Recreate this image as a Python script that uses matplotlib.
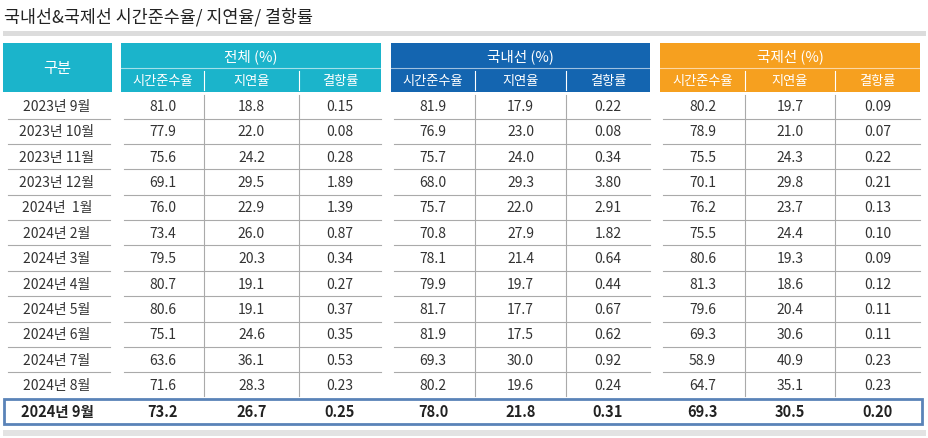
import matplotlib.pyplot as plt
from matplotlib.patches import Rectangle

plt.rcParams['font.family'] = ['Noto Sans CJK KR', 'Noto Sans CJK JP', 'Noto Sans CJK SC',
                               'Noto Sans CJK TC', 'DejaVu Sans']

title = '국내선&국제선 시간준수율/ 지연율/ 결항률'
months = ['2023년 9월', '2023년 10월', '2023년 11월', '2023년 12월', '2024년  1월', '2024년 2월',
          '2024년 3월', '2024년 4월', '2024년 5월', '2024년 6월', '2024년 7월', '2024년 8월', '2024년 9월']
groups = ['전체 (%)', '국내선 (%)', '국제선 (%)']
subcols = ['시간준수율', '지연율', '결항률']
total = [[81.0, 18.8, 0.15], [77.9, 22.0, 0.08], [75.6, 24.2, 0.28], [69.1, 29.5, 1.89],
         [76.0, 22.9, 1.39], [73.4, 26.0, 0.87], [79.5, 20.3, 0.34], [80.7, 19.1, 0.27],
         [80.6, 19.1, 0.37], [75.1, 24.6, 0.35], [63.6, 36.1, 0.53], [71.6, 28.3, 0.23],
         [73.2, 26.7, 0.25]]
domestic = [[81.9, 17.9, 0.22], [76.9, 23.0, 0.08], [75.7, 24.0, 0.34], [68.0, 29.3, 3.80],
            [75.7, 22.0, 2.91], [70.8, 27.9, 1.82], [78.1, 21.4, 0.64], [79.9, 19.7, 0.44],
            [81.7, 17.7, 0.67], [81.9, 17.5, 0.62], [69.3, 30.0, 0.92], [80.2, 19.6, 0.24],
            [78.0, 21.8, 0.31]]
intl = [[80.2, 19.7, 0.09], [78.9, 21.0, 0.07], [75.5, 24.3, 0.22], [70.1, 29.8, 0.21],
        [76.2, 23.7, 0.13], [75.5, 24.4, 0.10], [80.6, 19.3, 0.09], [81.3, 18.6, 0.12],
        [79.6, 20.4, 0.11], [69.3, 30.6, 0.11], [58.9, 40.9, 0.23], [64.7, 35.1, 0.23],
        [69.3, 30.5, 0.20]]
series = [total, domestic, intl]

colors = ['#1bb4cb', '#1465b0', '#f6a01f']
gx = [(121, 381), (391, 650), (660, 920)]
gsub = [[121, 204, 299, 381], [391, 475, 566, 650], [660, 745, 835, 920]]
fmt = ['{:.1f}', '{:.1f}', '{:.2f}']

fig = plt.figure(figsize=(9.29, 4.39), dpi=100)
ax = fig.add_axes([0, 0, 1, 1])
ax.set_xlim(0, 929)
ax.set_ylim(439, 0)
ax.axis('off')

ax.text(4, 17, title, fontsize=12.5, va='center', ha='left', color='#222222')
ax.add_patch(Rectangle((3, 32), 923, 5, color='#dcdcdc', lw=0))
ax.add_patch(Rectangle((3, 431), 923, 6, color='#e3e3e3', lw=0))

# header
ax.add_patch(Rectangle((3, 44), 109, 49, color=colors[0], lw=0))
ax.text(57, 69, '구분', color='white', fontsize=11, ha='center', va='center')
for g in range(3):
    x0, x1 = gx[g]
    ax.add_patch(Rectangle((x0, 44), x1 - x0, 49, color=colors[g], lw=0))
    ax.plot([x0, x1], [69, 69], color='white', lw=0.8, alpha=0.6)
    ax.text((x0 + x1) / 2, 57, groups[g], color='white', fontsize=10.5, ha='center', va='center')
    xs = gsub[g]
    for k in range(3):
        ax.text((xs[k] + xs[k + 1]) / 2, 81, subcols[k], color='white', fontsize=9.5,
                ha='center', va='center')
        if k > 0:
            ax.plot([xs[k], xs[k]], [72, 91], color='white', lw=0.8)

# rows
y0, pitch = 107, 25.36
n = len(months)
for i in range(n - 1):
    y = y0 + i * pitch
    ax.text(57, y, months[i], fontsize=10, ha='center', va='center', color='#333333')
    if i < n - 2:
        ax.plot([8, 110], [y + pitch / 2, y + pitch / 2], color='#aaaaaa', lw=0.8)
    for g in range(3):
        xs = gsub[g]
        if i < n - 2:
            ax.plot([xs[0] + 3, xs[3]], [y + pitch / 2, y + pitch / 2], color='#aaaaaa', lw=0.8)
        for k in range(3):
            ax.text((xs[k] + xs[k + 1]) / 2, y, fmt[k].format(series[g][i][k]), fontsize=10,
                    ha='center', va='center', color='#333333')
for g in range(3):
    for k in (1, 2):
        ax.plot([gsub[g][k], gsub[g][k]], [96, 397], color='#aaaaaa', lw=0.8)

# highlighted last row
yl = 412
ax.add_patch(Rectangle((4, 400), 918, 25, fill=False, ec='#5a83b8', lw=2))
ax.text(57, yl, months[-1], fontsize=10.5, fontweight='bold', ha='center', va='center', color='#222222')
for g in range(3):
    xs = gsub[g]
    for k in range(3):
        ax.text((xs[k] + xs[k + 1]) / 2, yl, fmt[k].format(series[g][-1][k]), fontsize=10.5,
                fontweight='bold', ha='center', va='center', color='#222222')

fig.savefig('out.png', dpi=100)
